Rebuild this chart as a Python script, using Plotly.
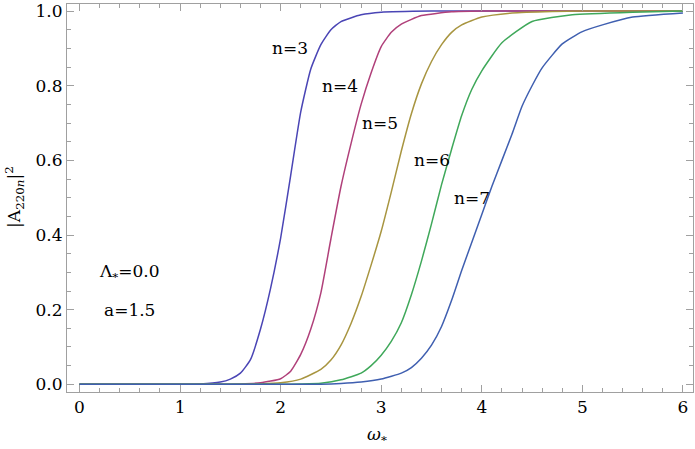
import plotly.graph_objects as go

# curve values (omega_*, |A_220n|^2)
w3 = [0.0, 1.0, 1.2, 1.4, 1.5, 1.6, 1.7, 1.8, 1.9, 2.0, 2.1, 2.2, 2.3, 2.4, 2.5, 2.6, 2.8, 3.0, 3.5, 6.0]
a3 = [0.0, 0.0, 0.001, 0.006, 0.014, 0.03, 0.066, 0.148, 0.257, 0.392, 0.56, 0.73, 0.845, 0.91, 0.95, 0.972, 0.99, 0.997, 1.0, 1.0]

w4 = [0.0, 1.4, 1.6, 1.8, 2.0, 2.1, 2.2, 2.3, 2.4, 2.5, 2.6, 2.7, 2.8, 2.9, 3.0, 3.1, 3.2, 3.4, 3.7, 4.0, 6.0]
a4 = [0.0, 0.0, 0.001, 0.004, 0.015, 0.035, 0.08, 0.148, 0.245, 0.39, 0.53, 0.645, 0.75, 0.835, 0.905, 0.943, 0.965, 0.988, 0.998, 1.0, 1.0]

w5 = [0.0, 1.6, 1.8, 2.0, 2.2, 2.4, 2.5, 2.6, 2.7, 2.8, 2.9, 3.0, 3.1, 3.2, 3.3, 3.4, 3.5, 3.6, 3.7, 3.8, 4.0, 4.3, 4.7, 5.0, 6.0]
a5 = [0.0, 0.0, 0.001, 0.004, 0.014, 0.04, 0.065, 0.105, 0.163, 0.235, 0.32, 0.41, 0.515, 0.625, 0.725, 0.805, 0.865, 0.91, 0.943, 0.963, 0.984, 0.995, 0.999, 1.0, 1.0]

w6 = [0.0, 2.0, 2.2, 2.4, 2.6, 2.8, 2.9, 3.0, 3.1, 3.2, 3.3, 3.4, 3.5, 3.6, 3.7, 3.8, 3.9, 4.0, 4.2, 4.5, 4.9, 5.5, 6.0]
a6 = [0.0, 0.0, 0.001, 0.003, 0.012, 0.03, 0.05, 0.078, 0.115, 0.165, 0.24, 0.33, 0.43, 0.535, 0.63, 0.72, 0.79, 0.84, 0.915, 0.972, 0.99, 0.997, 1.0]

w7 = [0.0, 2.4, 2.6, 2.8, 3.0, 3.2, 3.3, 3.4, 3.5, 3.6, 3.7, 3.8, 3.9, 4.0, 4.1, 4.2, 4.3, 4.4, 4.5, 4.6, 4.8, 5.0, 5.2, 5.5, 6.0]
a7 = [0.0, 0.0, 0.002, 0.006, 0.014, 0.03, 0.045, 0.07, 0.105, 0.155, 0.225, 0.305, 0.38, 0.455, 0.53, 0.6, 0.67, 0.745, 0.8, 0.848, 0.912, 0.945, 0.963, 0.984, 0.995]

names = ["n=3", "n=4", "n=5", "n=6", "n=7"]
colors = ["#4a45b5", "#b0407a", "#a89540", "#3fa85a", "#3f5fb0"]
label_x = [2.095, 2.59, 2.99, 3.5, 3.9]
label_y = [0.9, 0.8, 0.7, 0.6, 0.5]

# only serif face available in the sandbox
txt = dict(family="DejaVu Serif", size=17, color="black")

fig = go.Figure()
for xs, ys, nm, c in zip([w3, w4, w5, w6, w7], [a3, a4, a5, a6, a7], names, colors):
    fig.add_trace(go.Scatter(x=xs, y=ys, mode="lines", name=nm,
                             line=dict(color=c, width=1.5, shape="spline", smoothing=0.5)))

for nm, lx, ly in zip(names, label_x, label_y):
    fig.add_annotation(x=lx, y=ly, text=nm, showarrow=False, font=txt)

fig.add_annotation(x=0.5, y=0.3, text="Λ<sub>*</sub>=0.0", showarrow=False, font=txt)
fig.add_annotation(x=0.5, y=0.2, text="a=1.5", showarrow=False, font=txt)

# axis titles placed by hand, like the reference
fig.add_annotation(xref="paper", yref="paper", x=0.495, y=-0.112, text="<i>ω</i><sub>*</sub>",
                   showarrow=False, font=txt, xanchor="center", yanchor="middle")
fig.add_annotation(xref="paper", yref="paper", x=-0.083, y=0.503,
                   text="|A<sub>220<i>n</i></sub>|<sup>2</sup>", textangle=-90,
                   showarrow=False, font=txt, xanchor="center", yanchor="middle")

axis_common = dict(
    showline=True, linecolor="#a0a0a0", linewidth=1, mirror="allticks",
    ticks="inside", tickcolor="#a0a0a0", ticklen=7, tickwidth=1,
    showgrid=False, zeroline=False, automargin=False,
    tickfont=txt,
)

fig.update_layout(
    width=695, height=449,
    margin=dict(l=67, r=2, t=4, b=57),
    plot_bgcolor="white", paper_bgcolor="white",
    showlegend=False,
    font=dict(family="DejaVu Serif"),
    xaxis=dict(axis_common, range=[-0.124, 6.10], tickvals=[0, 1, 2, 3, 4, 5, 6],
               minor=dict(dtick=0.2, ticks="inside", ticklen=4, tickcolor="#a0a0a0", showgrid=False)),
    yaxis=dict(axis_common, range=[-0.0206, 1.019], tickvals=[0, 0.2, 0.4, 0.6, 0.8, 1.0],
               tickformat=".1f",
               minor=dict(dtick=0.05, ticks="inside", ticklen=4, tickcolor="#a0a0a0", showgrid=False)),
)

# page body has a default 8px margin, drop it so the figure sits at 0,0
fig.write_html("out.html", config={"displayModeBar": False},
               post_script="document.body.style.margin='0';")
